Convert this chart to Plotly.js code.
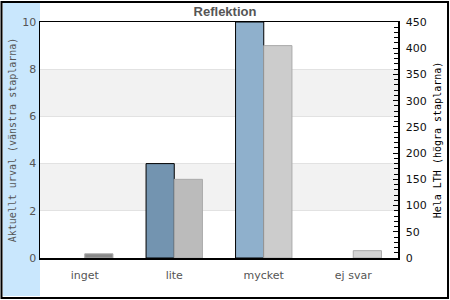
<!DOCTYPE html>
<html><head><meta charset="utf-8">
<script src="https://cdn.plot.ly/plotly-3.0.1.min.js"></script>
<style>html,body{margin:0;padding:0;background:#fff}#chart{width:450px;height:300px}</style>
</head><body><div id="chart"></div>
<script>
const categories = ["inget", "lite", "mycket", "ej svar"];
const currentSelection = [0, 4, 10, 0];
const wholeLTH = [8, 150, 405, 14];
const leftColors = ["#7394b0", "#7394b0", "#8fb0cc", "#8fb0cc"];
const rightColors = ["#888888", "#bbbbbb", "#cccccc", "#d4d4d4"];
const leftTicks = [0, 2, 4, 6, 8, 10];
const bands = [[2, 4], [6, 8]];

const leftLineWidths = currentSelection.map(v => v > 0 ? 1 : 0);

const traces = [
  {type: "bar", x: categories, y: currentSelection, yaxis: "y", offsetgroup: "a",
   marker: {color: leftColors, line: {color: "#000", width: leftLineWidths}}, hoverinfo: "none"},
  {type: "bar", x: categories, y: wholeLTH, yaxis: "y2", offsetgroup: "b",
   marker: {color: rightColors, line: {color: "#aaaaaa", width: 1}}, hoverinfo: "none"}
];

const shapes = bands.map(b => ({type: "rect", xref: "paper", yref: "y", x0: 0, x1: 1, y0: b[0], y1: b[1],
  fillcolor: "#f2f2f2", line: {width: 0}, layer: "below"}));
shapes.push({type: "rect", xref: "paper", yref: "paper", x0: -0.1034, x1: 0, y0: -0.161, y1: 1.0805,
  fillcolor: "#c9e7fd", line: {width: 0}, layer: "below"});
shapes.push({type: "rect", xref: "paper", yref: "paper", x0: -0.1075, x1: 1.1397, y0: -0.1695, y1: 1.0847,
  fillcolor: "rgba(0,0,0,0)", line: {color: "#000", width: 2}, layer: "above"});

const layout = {
  width: 450, height: 300,
  margin: {l: 40, r: 52, t: 22, b: 42},
  paper_bgcolor: "#fff", plot_bgcolor: "#fff",
  showlegend: false,
  barmode: "group", bargap: 0.37, bargroupgap: 0,
  font: {family: "DejaVu Sans", size: 11, color: "#555"},
  title: {text: "<b>Reflektion</b>", font: {family: "Liberation Sans, Arial", size: 13, color: "#555"},
    x: 0.5, xanchor: "center", y: 0.962, yanchor: "middle"},
  xaxis: {type: "category", showline: true, linecolor: "#000", linewidth: 1.5, mirror: true,
    ticks: "", ticklabelstandoff: 6, tickfont: {color: "#555", size: 11}, showgrid: false, fixedrange: true},
  yaxis: {range: [0, 10], tickvals: leftTicks, ticks: "", showline: true, linecolor: "#000", linewidth: 1.5,
    showgrid: true, gridcolor: "#e2e2e2", gridwidth: 1, zeroline: false, tickfont: {color: "#555", size: 11},
    title: {text: "Aktuellt urval (vänstra staplarna)", font: {family: "DejaVu Sans Mono", size: 10, color: "#555"}, standoff: 4}},
  yaxis2: {range: [0, 450], tickmode: "linear", tick0: 0, dtick: 50, overlaying: "y", side: "right", showgrid: false, zeroline: false,
    showline: true, linecolor: "#000", linewidth: 1.5, ticks: "inside", ticklen: 5, tickcolor: "#000", tickwidth: 1,
    minor: {dtick: 10, ticks: "inside", ticklen: 4, tickcolor: "#000", tickwidth: 1, showgrid: false},
    ticklabelstandoff: 4,
    tickfont: {color: "#111", size: 11},
    title: {text: "Hela LTH (högra staplarna)", font: {family: "DejaVu Sans Mono", size: 10, color: "#000"}, standoff: 8}},
  shapes: shapes
};
Plotly.newPlot("chart", traces, layout, {staticPlot: true, displayModeBar: false});
</script></body></html>
